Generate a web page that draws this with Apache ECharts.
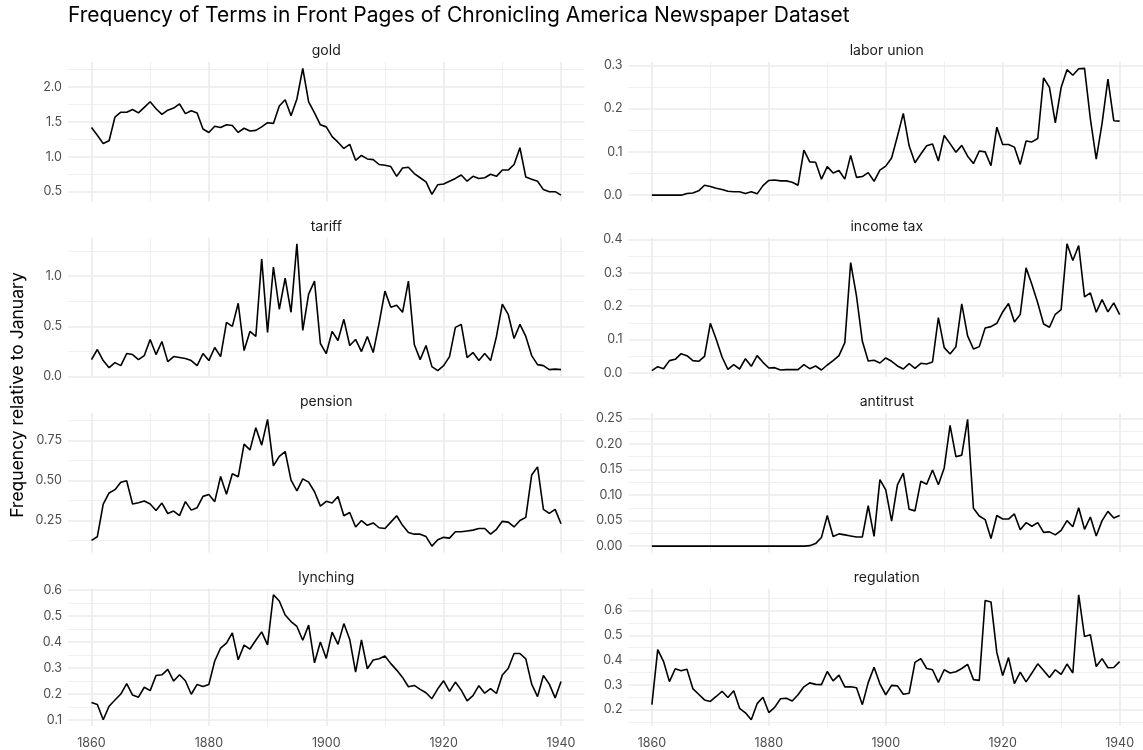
<!DOCTYPE html>
<html>
<head>
<meta charset="utf-8">
<script src="https://cdn.jsdelivr.net/npm/echarts@6/dist/echarts.min.js"></script>
<style>
  html, body { margin: 0; padding: 0; background: #ffffff; }
  #chart { width: 1143px; height: 750px; }
</style>
</head>
<body>
<div id="chart"></div>
<script>
// Yearly front-page term frequencies, 1860–1940, relative to January
const firstYear = 1860;

const gold = [
  1.42, 1.31, 1.19, 1.23, 1.57, 1.64, 1.64, 1.68, 1.63, 1.71,
  1.79, 1.69, 1.61, 1.67, 1.70, 1.76, 1.62, 1.66, 1.63, 1.40,
  1.35, 1.44, 1.42, 1.46, 1.45, 1.35, 1.41, 1.37, 1.38, 1.43,
  1.49, 1.48, 1.73, 1.82, 1.59, 1.83, 2.27, 1.79, 1.63, 1.46,
  1.43, 1.29, 1.21, 1.12, 1.18, 0.95, 1.02, 0.97, 0.96, 0.89,
  0.88, 0.86, 0.72, 0.84, 0.85, 0.76, 0.70, 0.64, 0.46, 0.60,
  0.61, 0.65, 0.69, 0.74, 0.65, 0.72, 0.69, 0.70, 0.75, 0.72,
  0.81, 0.81, 0.89, 1.13, 0.71, 0.68, 0.65, 0.53, 0.50, 0.50,
  0.45
];

const laborUnion = [
  0.000, 0.000, 0.000, 0.000, 0.000, 0.000, 0.004, 0.005, 0.010, 0.023,
  0.020, 0.016, 0.013, 0.009, 0.008, 0.008, 0.004, 0.008, 0.003, 0.022,
  0.034, 0.035, 0.033, 0.033, 0.030, 0.023, 0.104, 0.077, 0.076, 0.037,
  0.066, 0.051, 0.057, 0.037, 0.092, 0.041, 0.043, 0.052, 0.032, 0.058,
  0.067, 0.086, 0.136, 0.189, 0.114, 0.075, 0.095, 0.114, 0.118, 0.079,
  0.138, 0.119, 0.099, 0.115, 0.090, 0.073, 0.102, 0.100, 0.068, 0.157,
  0.117, 0.117, 0.111, 0.071, 0.125, 0.123, 0.131, 0.271, 0.249, 0.167,
  0.249, 0.290, 0.277, 0.292, 0.293, 0.176, 0.083, 0.166, 0.268, 0.172,
  0.171
];

const tariff = [
  0.17, 0.27, 0.16, 0.09, 0.14, 0.11, 0.23, 0.22, 0.17, 0.21,
  0.37, 0.22, 0.35, 0.15, 0.20, 0.19, 0.18, 0.16, 0.11, 0.23,
  0.16, 0.29, 0.20, 0.54, 0.50, 0.73, 0.26, 0.45, 0.40, 1.17,
  0.44, 1.09, 0.67, 0.98, 0.64, 1.32, 0.46, 0.82, 0.95, 0.33,
  0.23, 0.45, 0.36, 0.57, 0.31, 0.37, 0.25, 0.40, 0.24, 0.53,
  0.85, 0.69, 0.71, 0.64, 0.95, 0.32, 0.17, 0.31, 0.10, 0.06,
  0.11, 0.20, 0.49, 0.52, 0.19, 0.24, 0.16, 0.23, 0.16, 0.40,
  0.72, 0.62, 0.38, 0.52, 0.40, 0.21, 0.12, 0.11, 0.07, 0.075,
  0.07
];

const incomeTax = [
  0.007, 0.019, 0.013, 0.037, 0.041, 0.058, 0.052, 0.037, 0.035, 0.050,
  0.149, 0.101, 0.048, 0.011, 0.025, 0.012, 0.043, 0.020, 0.052, 0.032,
  0.015, 0.016, 0.009, 0.010, 0.010, 0.010, 0.025, 0.013, 0.021, 0.009,
  0.024, 0.037, 0.052, 0.091, 0.331, 0.230, 0.095, 0.036, 0.038, 0.030,
  0.045, 0.035, 0.021, 0.012, 0.028, 0.014, 0.029, 0.027, 0.033, 0.166,
  0.076, 0.057, 0.079, 0.207, 0.111, 0.072, 0.079, 0.135, 0.139, 0.149,
  0.183, 0.208, 0.153, 0.175, 0.315, 0.265, 0.210, 0.147, 0.137, 0.176,
  0.190, 0.387, 0.337, 0.382, 0.228, 0.240, 0.182, 0.220, 0.183, 0.210,
  0.175
];

const pension = [
  0.126, 0.149, 0.353, 0.422, 0.443, 0.489, 0.498, 0.353, 0.361, 0.372,
  0.353, 0.313, 0.359, 0.294, 0.309, 0.281, 0.368, 0.315, 0.330, 0.401,
  0.412, 0.368, 0.525, 0.414, 0.542, 0.523, 0.727, 0.691, 0.830, 0.721,
  0.882, 0.592, 0.651, 0.681, 0.502, 0.435, 0.510, 0.490, 0.430, 0.340,
  0.370, 0.360, 0.400, 0.280, 0.300, 0.210, 0.250, 0.220, 0.235, 0.205,
  0.200, 0.240, 0.280, 0.220, 0.175, 0.165, 0.165, 0.150, 0.090, 0.130,
  0.145, 0.140, 0.180, 0.180, 0.185, 0.190, 0.200, 0.200, 0.165, 0.195,
  0.245, 0.240, 0.210, 0.250, 0.270, 0.535, 0.585, 0.320, 0.295, 0.320,
  0.230
];

const antitrust = [
  0.000, 0.000, 0.000, 0.000, 0.000, 0.000, 0.000, 0.000, 0.000, 0.000,
  0.000, 0.000, 0.000, 0.000, 0.000, 0.000, 0.000, 0.000, 0.000, 0.000,
  0.000, 0.000, 0.000, 0.000, 0.000, 0.000, 0.000, 0.001, 0.005, 0.017,
  0.060, 0.019, 0.024, 0.022, 0.020, 0.018, 0.018, 0.079, 0.019, 0.130,
  0.110, 0.049, 0.120, 0.143, 0.072, 0.069, 0.127, 0.121, 0.149, 0.120,
  0.153, 0.236, 0.175, 0.178, 0.248, 0.074, 0.059, 0.052, 0.015, 0.060,
  0.053, 0.053, 0.063, 0.032, 0.046, 0.039, 0.046, 0.027, 0.028, 0.022,
  0.031, 0.050, 0.038, 0.075, 0.033, 0.057, 0.020, 0.050, 0.068, 0.055,
  0.060
];

const lynching = [
  0.167, 0.160, 0.101, 0.153, 0.177, 0.200, 0.240, 0.196, 0.188, 0.226,
  0.213, 0.271, 0.274, 0.295, 0.250, 0.274, 0.251, 0.199, 0.237, 0.229,
  0.237, 0.327, 0.377, 0.396, 0.435, 0.332, 0.388, 0.373, 0.407, 0.439,
  0.389, 0.582, 0.558, 0.504, 0.479, 0.460, 0.407, 0.465, 0.320, 0.400,
  0.337, 0.438, 0.391, 0.471, 0.410, 0.284, 0.408, 0.297, 0.331, 0.336,
  0.346, 0.317, 0.292, 0.264, 0.228, 0.233, 0.218, 0.205, 0.182, 0.220,
  0.251, 0.210, 0.246, 0.215, 0.174, 0.194, 0.232, 0.203, 0.221, 0.202,
  0.273, 0.298, 0.356, 0.356, 0.335, 0.238, 0.190, 0.271, 0.238, 0.185,
  0.248
];

const regulation = [
  0.220, 0.442, 0.394, 0.313, 0.365, 0.357, 0.363, 0.285, 0.262, 0.239,
  0.233, 0.253, 0.274, 0.249, 0.276, 0.205, 0.187, 0.159, 0.224, 0.250,
  0.188, 0.209, 0.244, 0.246, 0.235, 0.260, 0.292, 0.308, 0.302, 0.301,
  0.354, 0.316, 0.339, 0.292, 0.292, 0.288, 0.220, 0.309, 0.371, 0.304,
  0.260, 0.298, 0.296, 0.262, 0.266, 0.391, 0.406, 0.366, 0.361, 0.310,
  0.361, 0.348, 0.353, 0.366, 0.383, 0.321, 0.318, 0.641, 0.635, 0.430,
  0.338, 0.410, 0.305, 0.351, 0.312, 0.348, 0.385, 0.358, 0.330, 0.361,
  0.342, 0.384, 0.348, 0.664, 0.495, 0.502, 0.374, 0.406, 0.369, 0.370,
  0.394
];

// Tick labels for each panel's y axis and the shared year axis
const goldTicks       = ['0.5', '1.0', '1.5', '2.0'];
const laborUnionTicks = ['0.0', '0.1', '0.2', '0.3'];
const tariffTicks     = ['0.0', '0.5', '1.0'];
const incomeTaxTicks  = ['0.0', '0.1', '0.2', '0.3', '0.4'];
const pensionTicks    = ['0.25', '0.50', '0.75'];
const antitrustTicks  = ['0.00', '0.05', '0.10', '0.15', '0.20', '0.25'];
const lynchingTicks   = ['0.1', '0.2', '0.3', '0.4', '0.5', '0.6'];
const regulationTicks = ['0.2', '0.3', '0.4', '0.5', '0.6'];
const yearTicks       = ['1860', '1880', '1900', '1920', '1940'];

const panels = [
  { name: 'gold',        values: gold,       ticks: goldTicks },
  { name: 'labor union', values: laborUnion, ticks: laborUnionTicks },
  { name: 'tariff',      values: tariff,     ticks: tariffTicks },
  { name: 'income tax',  values: incomeTax,  ticks: incomeTaxTicks },
  { name: 'pension',     values: pension,    ticks: pensionTicks },
  { name: 'antitrust',   values: antitrust,  ticks: antitrustTicks },
  { name: 'lynching',    values: lynching,   ticks: lynchingTicks },
  { name: 'regulation',  values: regulation, ticks: regulationTicks }
];

// ---- layout & style ----
const FONT = 'Inter, Roboto, "Noto Sans", sans-serif';
const colLeft = [68, 628.5];
const panelW = 516.5;
const rowTop = [62, 237.5, 413, 588.5];
const panelH = 139.5;
const gridColor = '#ebebeb';

// Half-step positions between (and just beyond) the labelled ticks
function minorBetween(major, lo, hi) {
  const step = major[1] - major[0];
  const out = [];
  for (let i = -1; i < major.length; i++) {
    const v = major[0] + step * (i + 0.5);
    if (v > lo && v < hi) out.push(+v.toFixed(6));
  }
  return out;
}

function padRange(values) {
  const lo = Math.min.apply(null, values), hi = Math.max.apply(null, values);
  const pad = (hi - lo) * 0.05;
  return [lo - pad, hi + pad];
}

const yearNums = yearTicks.map(Number);
const xMin = yearNums[0] - 4, xMax = yearNums[yearNums.length - 1] + 4;
const yearMinor = minorBetween(yearNums, xMin, xMax);

const grids = [], xAxes = [], yAxes = [], series = [], graphics = [];

panels.forEach((p, i) => {
  const row = Math.floor(i / 2), col = i % 2;
  const left = colLeft[col], top = rowTop[row];
  grids.push({ left: left, top: top, width: panelW, height: panelH, containLabel: false });

  const years = p.values.map((_, k) => firstYear + k);
  const [yMin, yMax] = padRange(p.values);
  const major = p.ticks.map(Number);
  const minor = minorBetween(major, yMin, yMax);
  const bottomRow = row === 3;

  // major x axis (labels on the bottom row only)
  xAxes.push({
    type: 'value', gridIndex: i, min: xMin, max: xMax, position: 'bottom',
    axisLine: { show: false },
    axisTick: { show: false, customValues: yearNums },
    axisLabel: {
      show: bottomRow, customValues: yearNums, margin: 11,
      color: '#4d4d4d', fontSize: 12.5, fontFamily: FONT,
      formatter: v => yearTicks[yearNums.indexOf(v)] || ''
    },
    splitLine: { show: true, lineStyle: { color: gridColor, width: 1.6 } },
    z: 1
  });
  // minor x grid
  xAxes.push({
    type: 'value', gridIndex: i, min: xMin, max: xMax, position: 'top',
    axisLine: { show: false },
    axisTick: { show: false, customValues: yearMinor },
    axisLabel: { show: false, customValues: yearMinor },
    splitLine: { show: true, lineStyle: { color: gridColor, width: 0.8 } },
    z: 0
  });
  // major y axis
  yAxes.push({
    type: 'value', gridIndex: i, min: yMin, max: yMax, position: 'left',
    axisLine: { show: false },
    axisTick: { show: false, customValues: major },
    axisLabel: {
      show: true, customValues: major, margin: 6,
      color: '#4d4d4d', fontSize: 12.5, fontFamily: FONT,
      formatter: v => {
        const k = major.findIndex(m => Math.abs(m - v) < 1e-9);
        return k >= 0 ? p.ticks[k] : '';
      }
    },
    splitLine: { show: true, lineStyle: { color: gridColor, width: 1.6 } },
    z: 1
  });
  // minor y grid
  yAxes.push({
    type: 'value', gridIndex: i, min: yMin, max: yMax, position: 'right',
    axisLine: { show: false },
    axisTick: { show: false, customValues: minor },
    axisLabel: { show: false, customValues: minor },
    splitLine: { show: true, lineStyle: { color: gridColor, width: 0.8 } },
    z: 0
  });

  series.push({
    name: p.name, type: 'line',
    xAxisIndex: i * 2, yAxisIndex: i * 2,
    data: years.map((y, k) => [y, p.values[k]]),
    showSymbol: false, symbol: 'none',
    lineStyle: { color: '#000000', width: 1.6 },
    silent: true, z: 5
  });

  // facet strip label
  graphics.push({
    type: 'text', x: left + panelW / 2, y: top - 11,
    style: {
      text: p.name, fill: '#1a1a1a', font: '14px ' + FONT,
      align: 'center', verticalAlign: 'middle',
      textAlign: 'center', textVerticalAlign: 'middle'
    }
  });
});

// plot title
graphics.push({
  type: 'text', x: 68, y: 16,
  style: {
    text: 'Frequency of Terms in Front Pages of Chronicling America Newspaper Dataset',
    fill: '#000000', font: '21px ' + FONT,
    align: 'left', verticalAlign: 'middle',
    textAlign: 'left', textVerticalAlign: 'middle'
  }
});
// shared y axis title
graphics.push({
  type: 'text', x: 18, y: (rowTop[0] + rowTop[3] + panelH) / 2,
  rotation: Math.PI / 2,
  style: {
    text: 'Frequency relative to January',
    fill: '#000000', font: '17.5px ' + FONT,
    align: 'center', verticalAlign: 'middle',
    textAlign: 'center', textVerticalAlign: 'middle'
  }
});

const chart = echarts.init(document.getElementById('chart'), null, { renderer: 'canvas' });
chart.setOption({
  animation: false,
  backgroundColor: '#ffffff',
  grid: grids,
  xAxis: xAxes,
  yAxis: yAxes,
  series: series,
  graphic: { elements: graphics }
});
</script>
</body>
</html>
